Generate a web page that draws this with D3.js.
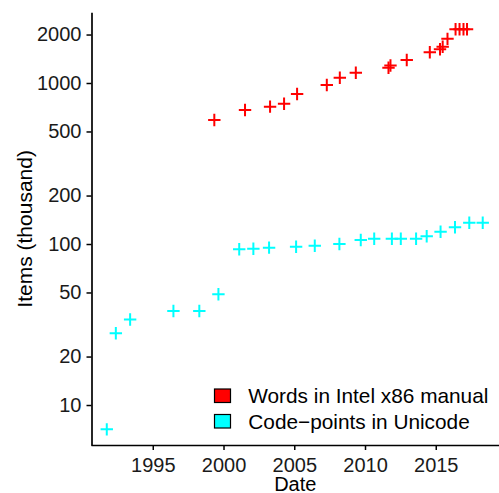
<!DOCTYPE html>
<html><head><meta charset="utf-8">
<script src="https://cdn.jsdelivr.net/npm/d3@7/dist/d3.min.js"></script>
<style>body{margin:0;background:#fff}svg{display:block}</style>
</head><body><svg id="c" width="499" height="493"></svg>
<script>
// Words in Intel x86 manual (thousand)
const intelYears = [1999.35, 2001.52, 2003.29, 2004.28, 2005.20, 2007.30, 2008.22, 2009.35, 2011.66, 2011.80, 2012.95, 2014.58, 2015.30, 2015.49, 2015.83, 2016.40, 2016.68, 2016.96, 2017.21];
const intelWords = [589, 679, 713, 743, 855, 972, 1079, 1158, 1245, 1285, 1389, 1552, 1619, 1681, 1880, 2156, 2156, 2156, 2156];
// Code-points in Unicode (thousand)
const unicodeYears = [1991.75, 1992.39, 1993.40, 1996.46, 1998.29, 1999.64, 2001.11, 2002.11, 2003.22, 2005.13, 2006.45, 2008.19, 2009.70, 2010.65, 2011.90, 2012.53, 2013.61, 2014.36, 2015.34, 2016.36, 2017.37, 2018.32];
const unicodePoints = [7.06, 27.9, 34.0, 38.4, 38.4, 48.7, 92.7, 93.5, 94.9, 96.2, 97.6, 100, 105.9, 107.7, 107.7, 107.7, 107.7, 111.7, 119.1, 127.0, 135.5, 135.5];

const seriesNames = ["Words in Intel x86 manual", "Code\u2212points in Unicode"];
const seriesColors = ["#ff0000", "#00ffff"];
const xTicks = [1995, 2000, 2005, 2010, 2015];
const yTicks = [10, 20, 50, 100, 200, 500, 1000, 2000];

(function () {
const svg = d3.select("#c");
const FONT = "'Liberation Sans', Arial, Helvetica, sans-serif";
const pL = 91.5, pR = 499, pT = 12.7, pB = 445;

const x = d3.scaleLinear().domain([1990.67, 2019.47]).range([pL, pR]);
const y = d3.scaleLog().domain([5.645, 2733]).range([pB, pT]);

// axes
const gx = svg.append("g").attr("transform", `translate(0,${pB})`)
  .call(d3.axisBottom(x).tickValues(xTicks).tickFormat(d3.format("d")).tickSize(5).tickSizeOuter(0).tickPadding(7.5));
const gy = svg.append("g").attr("transform", `translate(${pL},0)`)
  .call(d3.axisLeft(y).tickValues(yTicks).tickFormat(d3.format("d")).tickSize(5).tickSizeOuter(0).tickPadding(5));
[gx, gy].forEach(g => {
  g.select(".domain").attr("stroke", "#000").attr("stroke-width", 1.7);
  g.selectAll(".tick line").attr("stroke", "#000").attr("stroke-width", 1.5);
  g.selectAll(".tick text").attr("fill", "#1a1a1a").style("font-family", FONT).style("font-size", "20px");
});
gx.select(".domain").attr("d", `M${pL},0.5H${pR}`);
gy.select(".domain").attr("d", `M0.5,${pT}V${pB + 0.8}`);

// points
const cross = "M-6.2,0H6.2M0,-6.2V6.2";
function drawSeries(xs, ys, color) {
  svg.append("g").selectAll("path").data(xs.map((d, i) => [d, ys[i]])).join("path")
    .attr("transform", d => `translate(${x(d[0])},${y(d[1])})`)
    .attr("d", cross).attr("stroke", color).attr("stroke-width", 2).attr("fill", "none");
}
drawSeries(intelYears, intelWords, seriesColors[0]);
drawSeries(unicodeYears, unicodePoints, seriesColors[1]);

// axis titles
svg.append("text").attr("x", (pL + pR) / 2).attr("y", 490.5).attr("text-anchor", "middle")
  .style("font-family", FONT).style("font-size", "20px").attr("fill", "#000").text("Date");
svg.append("text").attr("transform", `translate(31.7,${(pT + pB) / 2}) rotate(-90)`).attr("text-anchor", "middle")
  .style("font-family", FONT).style("font-size", "21px").attr("fill", "#000").text("Items (thousand)");

// legend
const lg = svg.append("g").attr("transform", "translate(214,388.5)");
seriesNames.forEach((n, i) => {
  lg.append("rect").attr("x", 0.5).attr("y", i * 25.5 + 0.5).attr("width", 16).attr("height", 13.5)
    .attr("fill", seriesColors[i]).attr("stroke", "#000").attr("stroke-width", 1.2);
  lg.append("text").attr("x", 34.3).attr("y", i * 25.5 + 14.5)
    .style("font-family", FONT).style("font-size", "20.8px").attr("fill", "#000").text(n);
});
})();
</script></body></html>
